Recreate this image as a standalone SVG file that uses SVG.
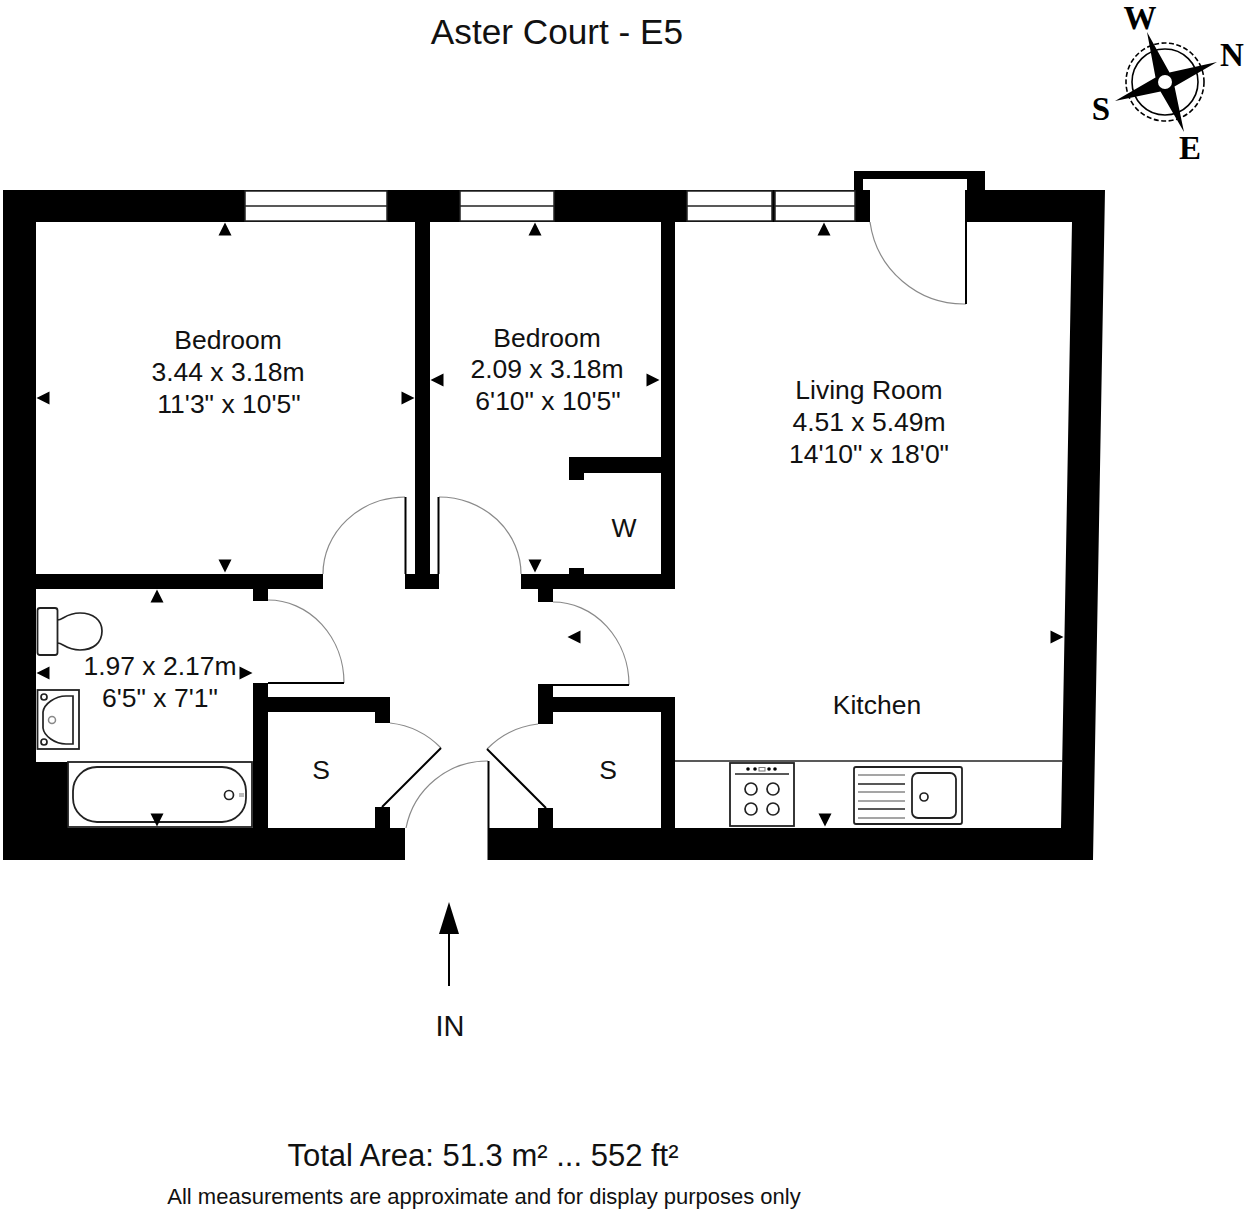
<svg xmlns="http://www.w3.org/2000/svg" width="1248" height="1217" viewBox="0 0 1248 1217">
<style>
text{font-family:"Liberation Sans",Arial,sans-serif;fill:#111;text-anchor:middle}
.l{font-size:26.500px}
.c{font-family:"Liberation Serif","Times New Roman",serif;font-weight:bold;font-size:33px;fill:#000}
.arc{fill:none;stroke:#8a8a8a;stroke-width:1.2}
.leaf{fill:none;stroke:#000;stroke-width:2}
.win{fill:#fff;stroke:#222;stroke-width:1.5}
.fx{fill:#fff;stroke:#222;stroke-width:1.8}
.thin{fill:none;stroke:#222;stroke-width:1.7}
.g{fill:none;stroke:#888;stroke-width:1.5}
</style>
<defs>
<path id="tri" d="M0-6.500L6.500 6.500H-6.500Z" fill="#000"/>
</defs>
<rect width="1248" height="1217" fill="#fff"/>
<g id="title"><text x="557" y="44" font-size="35.200">Aster Court - E5</text></g>
<g id="compass">
<circle cx="1165" cy="82" r="33" fill="none" stroke="#000" stroke-width="1.600"/>
<circle cx="1165" cy="82" r="39" fill="none" stroke="#000" stroke-width="1.600" stroke-dasharray="5 2.500"/>
<path d="M1147 32L1169.500 72.500L1217 62L1174.500 86.500L1184 132L1160.500 91.500L1115 101L1155.500 77.500Z" fill="#000"/>
<circle cx="1165" cy="82" r="7" fill="#fff"/>
<text class="c" x="1140" y="29">W</text>
<text class="c" x="1232" y="66">N</text>
<text class="c" x="1101" y="120">S</text>
<text class="c" x="1190" y="159">E</text>
</g>
<g id="walls" fill="#000">
<path d="M3 190H854V171H985V190H1105L1093 860H489V828H1061L1072 222H967V179H976H863V222H36V574H323V589H36V762H68V828H405V860H3Z" fill-rule="evenodd"/>
<rect x="854" y="190" width="16" height="32"/>
<rect x="967" y="190" width="105" height="32"/>
<rect x="415" y="222" width="15" height="352"/>
<rect x="405" y="574" width="34" height="15"/>
<rect x="521" y="574" width="154" height="15"/>
<rect x="661" y="222" width="14" height="367"/>
<rect x="569" y="457" width="92" height="16"/>
<rect x="569" y="457" width="15" height="23"/>
<rect x="569" y="568" width="15" height="6"/>
<rect x="538" y="589" width="15" height="13"/>
<rect x="253" y="589" width="15" height="12"/>
<rect x="253" y="683" width="15" height="145"/>
<rect x="268" y="697" width="122" height="15"/>
<rect x="375" y="712" width="15" height="11"/>
<rect x="375" y="807" width="15" height="21"/>
<rect x="538" y="684" width="15" height="40"/>
<rect x="553" y="697" width="122" height="15"/>
<rect x="661" y="712" width="14" height="116"/>
<rect x="538" y="808" width="15" height="20"/>
</g>
<g id="windows">
<rect class="win" x="245" y="191" width="142" height="30"/><path class="win" d="M245 206H387"/>
<rect class="win" x="460" y="191" width="94" height="30"/><path class="win" d="M460 206H554"/>
<rect class="win" x="687" y="191" width="85" height="30"/><path class="win" d="M687 206H772"/>
<rect class="win" x="775" y="191" width="80" height="30"/><path class="win" d="M775 206H855"/>
</g>
<g id="doors">
<path class="arc" d="M870 222A95 95 0 0 0 966 304"/><path class="leaf" d="M966 190V304"/>
<path class="arc" d="M405 497A83 77 0 0 0 323 574"/><path class="leaf" d="M405.500 497V574"/>
<path class="arc" d="M439 497A82 77 0 0 1 521 574"/><path class="leaf" d="M438.500 497V574"/>
<path class="arc" d="M268 600A76 83 0 0 1 344 683"/><path class="leaf" d="M268 683H344"/>
<path class="arc" d="M553 602A76 83 0 0 1 629 685"/><path class="leaf" d="M553 685H629"/>
<path class="arc" d="M390 723A84 84 0 0 1 441 748"/><path class="leaf" d="M382 807L441 748"/>
<path class="arc" d="M538 724A84 84 0 0 0 487 749"/><path class="leaf" d="M546 808L487 749"/>
<path class="arc" d="M488 761A83 83 0 0 0 406 828"/><path class="leaf" d="M488.500 761V860"/>
</g>
<g id="kitchen">
<path class="thin" d="M675 761H1062"/>
<rect class="fx" x="730" y="763" width="64" height="63"/>
<path class="thin" d="M735 774H789"/>
<circle cx="748" cy="769" r="1.800" fill="#000"/><circle cx="755" cy="769" r="1.800" fill="#000"/>
<rect x="759" y="767.500" width="6" height="3.500" fill="#fff" stroke="#777"/>
<circle cx="769" cy="769" r="1.800" fill="#000"/><circle cx="775" cy="769" r="1.800" fill="#000"/>
<circle class="thin" cx="751" cy="789" r="6"/><circle class="thin" cx="773" cy="789" r="6"/>
<circle class="thin" cx="751" cy="809" r="6"/><circle class="thin" cx="773" cy="809" r="6"/>
<rect class="fx" x="854" y="767" width="108" height="57" rx="2"/>
<rect class="fx" x="912" y="773" width="44" height="45" rx="6"/>
<circle class="thin" cx="924" cy="797" r="4"/>
<path class="g" d="M858 775H905M858 792H905M858 801H905M858 818H905"/>
<path class="thin" d="M858 784H905M858 809H905"/>
</g>
<g id="bathroom">
<rect class="fx" x="68" y="762" width="184" height="65" stroke="#555"/>
<rect class="fx" x="73" y="767" width="173" height="55" rx="24"/>
<circle class="thin" cx="229" cy="795" r="4.500"/>
<rect x="239" y="793" width="5" height="4" fill="#bbb"/>
<rect class="fx" x="37.500" y="608" width="20" height="47" rx="2.500"/>
<path class="thin" d="M57.500 620C63 620 66 613 80 613C93 613 102 620 102 631C102 643 93 650 80 650C66 650 63 643 57.500 643"/>
<rect class="fx" x="37.500" y="690" width="41.500" height="59"/>
<path class="thin" d="M73 696H66C55 696 44 704 43 712V728C44 736 55 744 66 744H73Z"/>
<circle class="thin" cx="44" cy="697" r="3"/><circle class="thin" cx="44" cy="742" r="3"/>
<circle class="g" cx="52" cy="720" r="3.500"/>
</g>
<g id="dimension-marks">
<use href="#tri" x="225" y="229"/><use href="#tri" x="535" y="229"/><use href="#tri" x="824" y="229"/><use href="#tri" x="157" y="596"/>
<use href="#tri" transform="translate(225 566) rotate(180)"/><use href="#tri" transform="translate(535 566) rotate(180)"/><use href="#tri" transform="translate(157 820) rotate(180)"/><use href="#tri" transform="translate(825 820) rotate(180)"/>
<use href="#tri" transform="translate(43 398) rotate(-90)"/><use href="#tri" transform="translate(437 380) rotate(-90)"/><use href="#tri" transform="translate(43 673) rotate(-90)"/><use href="#tri" transform="translate(574 637) rotate(-90)"/>
<use href="#tri" transform="translate(408 398) rotate(90)"/><use href="#tri" transform="translate(653 380) rotate(90)"/><use href="#tri" transform="translate(246 673) rotate(90)"/><use href="#tri" transform="translate(1057 637) rotate(90)"/>
</g>
<g id="labels">
<text class="l" x="228" y="349">Bedroom</text><text class="l" x="228" y="381">3.44 x 3.18m</text><text class="l" x="229" y="413">11'3" x 10'5"</text>
<text class="l" x="547" y="347">Bedroom</text><text class="l" x="547" y="378">2.09 x 3.18m</text><text class="l" x="548" y="410">6'10" x 10'5"</text>
<text class="l" x="869" y="399">Living Room</text><text class="l" x="869" y="431">4.51 x 5.49m</text><text class="l" x="869" y="463">14'10" x 18'0"</text>
<text class="l" x="160" y="675">1.97 x 2.17m</text><text class="l" x="160" y="707">6'5" x 7'1"</text>
<text class="l" x="877" y="714">Kitchen</text>
<text class="l" x="624" y="537">W</text><text class="l" x="321" y="779">S</text><text class="l" x="608" y="779">S</text>
</g>
<g id="entrance">
<path d="M449 930V986" stroke="#000" stroke-width="2" fill="none"/>
<path d="M449 902L459 934H439Z" fill="#000"/>
<text x="450" y="1036" font-size="29">IN</text>
</g>
<g id="footer">
<text x="483" y="1166" font-size="31">Total Area: 51.3 m² ... 552 ft²</text>
<text x="484" y="1204" font-size="22">All measurements are approximate and for display purposes only</text>
</g>
</svg>
